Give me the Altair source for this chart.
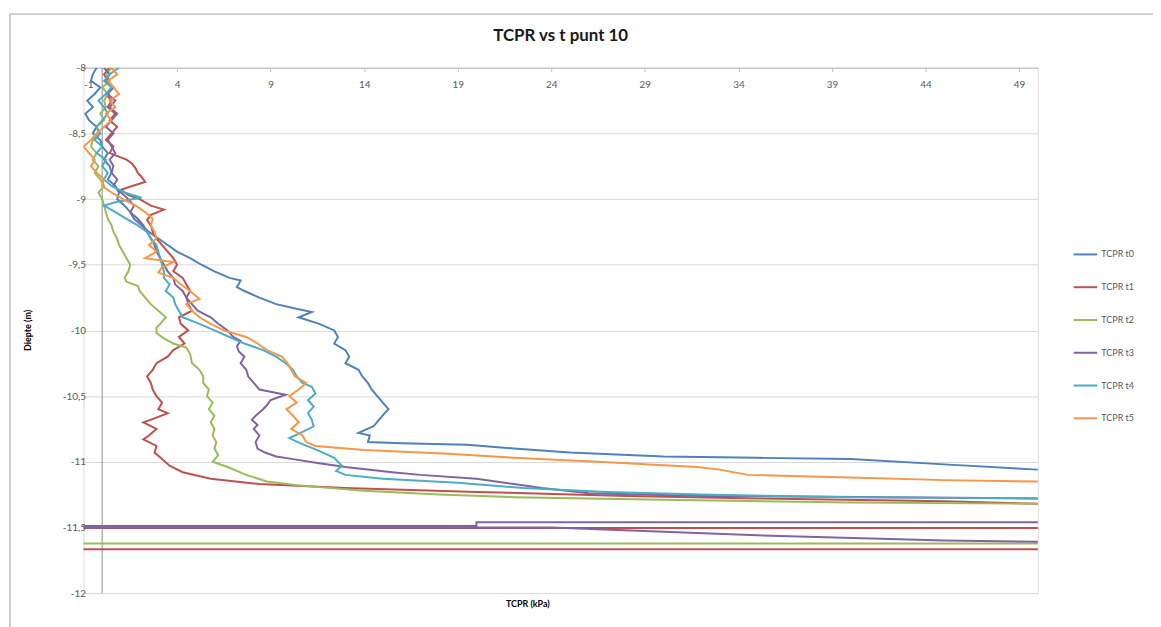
import altair as alt
import pandas as pd

series_names = ["TCPR t0", "TCPR t1", "TCPR t2", "TCPR t3", "TCPR t4", "TCPR t5"]
series_colors = ["#4F81BD", "#C0504D", "#9BBB59", "#8064A2", "#4BACC6", "#F79646"]

x_ticks = [-1, 4, 9, 14, 19, 24, 29, 34, 39, 44, 49]
y_ticks = [-8, -8.5, -9, -9.5, -10, -10.5, -11, -11.5, -12]
axis_cross = [0]

# TCPR t0
t0_depth = [-8.0, -8.05, -8.1, -8.15, -8.2, -8.25, -8.3, -8.35, -8.4, -8.45, -8.5, -8.55, -8.6, -8.65, -8.7,
            -8.75, -8.8, -8.85, -8.9, -8.95, -9.0, -9.05, -9.1, -9.15, -9.2, -9.25, -9.3, -9.35, -9.4, -9.45,
            -9.5, -9.55, -9.6, -9.62, -9.67, -9.7, -9.75, -9.8, -9.83, -9.86, -9.9, -9.95, -10.0, -10.05,
            -10.1, -10.15, -10.2, -10.25, -10.3, -10.35, -10.4, -10.45, -10.5, -10.55, -10.6, -10.63, -10.68,
            -10.73, -10.78, -10.8, -10.85, -10.86, -10.87, -10.9, -10.93, -10.96, -10.97, -10.98, -11.02,
            -11.06, -11.2]
t0_tcpr = [-0.3, -0.5, -0.6, -0.1, -0.4, -0.8, -0.5, -0.9, -0.7, -0.3, -0.5, -0.1, 0.0, 0.3, 0.1,
           0.4, 0.5, 0.3, 0.7, 0.9, 0.8, 1.2, 1.5, 1.7, 2.1, 2.5, 3.0, 3.5, 4.0, 4.7,
           5.3, 6.0, 6.8, 7.4, 7.2, 7.6, 8.4, 9.3, 10.2, 11.2, 10.5, 11.6, 12.4, 12.6,
           12.4, 13.0, 13.2, 13.0, 13.7, 13.9, 14.2, 14.4, 14.7, 15.0, 15.3, 15.1, 14.8,
           14.5, 13.7, 14.3, 14.2, 16.0, 19.5, 22, 25, 30, 35, 40, 45,
           50, 80]

# TCPR t1
t1_depth = [-8.0, -8.05, -8.1, -8.15, -8.2, -8.25, -8.3, -8.35, -8.4, -8.45, -8.5, -8.55, -8.6, -8.65, -8.7,
            -8.73, -8.77, -8.8, -8.83, -8.87, -8.9, -8.93, -8.97, -9.0, -9.05, -9.08, -9.12, -9.16, -9.2,
            -9.25, -9.3, -9.35, -9.4, -9.45, -9.5, -9.55, -9.6, -9.65, -9.7, -9.75, -9.8, -9.85, -9.9, -9.95,
            -10.0, -10.05, -10.1, -10.15, -10.2, -10.25, -10.3, -10.35, -10.4, -10.45, -10.5, -10.55, -10.6,
            -10.63, -10.67, -10.7, -10.75, -10.8, -10.83, -10.88, -10.93, -10.98, -11.03, -11.08, -11.13,
            -11.17, -11.2, -11.23, -11.26, -11.28, -11.3, -11.32, -11.33, -11.505, -11.505, -11.667, -11.667]
t1_tcpr = [0.4, 0.1, 0.3, 0.6, 0.2, 0.5, 0.3, 0.7, 0.4, 0.8, 0.5, 0.2, 0.6, 0.4, 1.3,
           1.6, 1.8, 1.9, 2.1, 2.3, 1.6, 1.0, 1.4, 2.0, 2.6, 3.3, 2.6, 2.4, 2.6,
           2.7, 2.9, 3.2, 3.5, 3.8, 4.0, 3.8, 4.3, 4.5, 4.7, 4.5, 4.6, 4.8, 4.1, 4.2,
           4.6, 4.1, 4.4, 3.8, 3.5, 2.9, 2.7, 2.4, 2.6, 2.7, 2.9, 3.2, 3.0,
           3.5, 2.8, 2.2, 2.9, 2.5, 2.2, 2.9, 2.8, 3.2, 3.6, 4.3, 5.8,
           8.4, 13, 20, 28, 35, 45, 50, 80, 80, -5, -5, 80]

# TCPR t2
t2_depth = [-8.0, -8.05, -8.1, -8.15, -8.2, -8.25, -8.3, -8.35, -8.4, -8.45, -8.5, -8.55, -8.6, -8.65, -8.7,
            -8.75, -8.8, -8.85, -8.9, -8.95, -9.0, -9.05, -9.1, -9.15, -9.2, -9.25, -9.3, -9.35, -9.4, -9.45,
            -9.5, -9.55, -9.6, -9.63, -9.66, -9.7, -9.75, -9.8, -9.85, -9.9, -9.95, -9.98, -10.02, -10.06,
            -10.1, -10.13, -10.18, -10.25, -10.3, -10.35, -10.4, -10.45, -10.5, -10.55, -10.6, -10.65, -10.7,
            -10.75, -10.8, -10.85, -10.9, -10.95, -11.0, -11.04, -11.1, -11.15, -11.18, -11.22, -11.25,
            -11.27, -11.29, -11.31, -11.32, -11.33, -11.622, -11.622]
t2_tcpr = [0.5, 0.2, 0.4, 0.0, 0.3, 0.1, 0.2, -0.1, 0.1, -0.3, -0.2, -0.5, -0.6, -0.3, -0.5,
           -0.2, -0.4, -0.1, 0.1, -0.2, 0.0, 0.1, 0.2, 0.3, 0.5, 0.6, 0.8, 0.9, 1.1, 1.3,
           1.5, 1.4, 1.2, 1.3, 1.9, 2.0, 2.3, 2.6, 3.0, 3.4, 3.1, 2.9, 2.9, 3.3,
           3.8, 4.5, 4.7, 4.8, 5.2, 5.4, 5.4, 5.7, 5.6, 5.9, 5.7, 6.0, 5.8,
           6.0, 5.9, 6.1, 6.0, 6.2, 5.9, 6.7, 7.7, 8.8, 10.5, 14, 18,
           22, 30, 40, 50, 80, 80, -5]

# TCPR t3
t3_depth = [-8.0, -8.05, -8.1, -8.15, -8.2, -8.25, -8.3, -8.35, -8.4, -8.45, -8.5, -8.55, -8.6, -8.65, -8.7,
            -8.75, -8.8, -8.85, -8.9, -8.95, -9.0, -9.05, -9.1, -9.15, -9.2, -9.25, -9.3, -9.35, -9.4, -9.45,
            -9.5, -9.55, -9.6, -9.65, -9.7, -9.75, -9.8, -9.85, -9.9, -9.95, -10.0, -10.05, -10.08, -10.12,
            -10.16, -10.2, -10.25, -10.3, -10.35, -10.4, -10.45, -10.49, -10.53, -10.57, -10.6, -10.65, -10.68,
            -10.72, -10.75, -10.8, -10.85, -10.9, -10.93, -10.96, -10.98, -11.01, -11.04, -11.08, -11.1,
            -11.13, -11.17, -11.2, -11.24, -11.26, -11.28, -11.29, -11.46, -11.46, -11.49, -11.49, -11.5,
            -11.5, -11.56, -11.6, -11.61, -11.62]
t3_tcpr = [0.1, 0.4, 0.2, 0.6, 0.3, 0.7, 0.4, 0.8, 0.5, 0.2, 0.6, 0.3, 0.5, 0.7, 0.4,
           0.6, 0.5, 0.8, 0.6, 1.0, 1.4, 1.7, 1.5, 1.9, 2.2, 2.4, 2.6, 2.8, 2.9, 3.1,
           3.3, 3.5, 3.8, 3.9, 4.3, 4.5, 4.8, 5.1, 5.8, 6.2, 6.7, 7.0, 7.4, 7.2,
           7.3, 7.6, 7.4, 7.7, 7.8, 8.1, 8.4, 9.8, 9.0, 8.8, 8.6, 8.2, 8.0,
           8.3, 8.1, 8.4, 8.2, 8.3, 8.7, 9.3, 10.2, 11.5, 13, 15.5, 17,
           20, 22, 23.5, 26, 32, 50, 80, 80, 20, 20, -5, -5,
           24, 35, 45, 50, 80]

# TCPR t4
t4_depth = [-8.0, -8.05, -8.1, -8.15, -8.2, -8.25, -8.3, -8.35, -8.4, -8.45, -8.5, -8.55, -8.6, -8.65, -8.7,
            -8.75, -8.8, -8.85, -8.9, -8.95, -8.99, -9.02, -9.05, -9.1, -9.15, -9.2, -9.25, -9.3, -9.35,
            -9.4, -9.45, -9.5, -9.55, -9.6, -9.65, -9.7, -9.75, -9.8, -9.85, -9.9, -9.95, -10.0, -10.05,
            -10.1, -10.15, -10.2, -10.25, -10.3, -10.35, -10.4, -10.43, -10.48, -10.53, -10.58, -10.63,
            -10.68, -10.73, -10.78, -10.82, -10.86, -10.9, -10.93, -10.97, -11.03, -11.07, -11.1, -11.13,
            -11.16, -11.2, -11.23, -11.25, -11.27, -11.28, -11.29]
t4_tcpr = [0.9, 0.4, 0.1, 0.5, 0.2, -0.2, 0.1, 0.3, 0.0, -0.3, -0.1, -0.4, 0.0, -0.3, 0.2,
           0.0, 0.3, 0.1, 0.5, 1.2, 2.1, 0.8, 0.1, 0.7, 1.3, 1.9, 2.4, 2.6, 2.9,
           3.0, 3.1, 3.2, 3.3, 3.3, 3.6, 3.4, 3.8, 3.9, 4.1, 4.3, 5.2, 6.0, 6.8,
           7.6, 8.6, 9.3, 9.8, 10.2, 10.4, 10.7, 11.2, 11.4, 11.0, 11.3, 11.0,
           11.2, 11.3, 10.6, 10.0, 10.6, 11.3, 11.8, 12.4, 12.8, 12.5, 13.0, 15,
           19, 22.5, 27, 32, 40, 50, 80]

# TCPR t5
t5_depth = [-8.0, -8.05, -8.1, -8.15, -8.2, -8.25, -8.3, -8.35, -8.4, -8.45, -8.5, -8.55, -8.6, -8.65, -8.7,
            -8.75, -8.8, -8.85, -8.9, -8.95, -9.0, -9.05, -9.1, -9.15, -9.2, -9.25, -9.3, -9.35, -9.4, -9.45,
            -9.48, -9.52, -9.56, -9.6, -9.65, -9.7, -9.76, -9.8, -9.85, -9.9, -9.95, -10.0, -10.05, -10.1,
            -10.15, -10.2, -10.25, -10.3, -10.35, -10.4, -10.45, -10.5, -10.55, -10.6, -10.65, -10.7, -10.75,
            -10.8, -10.85, -10.88, -10.91, -10.94, -10.97, -11.0, -11.04, -11.06, -11.1, -11.12, -11.14,
            -11.15, -11.2]
t5_tcpr = [0.5, 0.8, 0.3, 0.6, 0.9, 0.4, 0.7, 0.2, 0.5, 0.1, -0.3, -0.6, -1.0, -0.7, -0.4,
           -0.6, -0.3, 0.1, 0.0, 0.5, 1.1, 1.8, 2.3, 2.7, 2.6, 2.8, 2.9, 2.5, 2.9, 2.3,
           3.8, 3.2, 3.0, 3.8, 4.2, 4.7, 5.2, 4.5, 4.8, 5.2, 5.8, 6.5, 7.7, 8.3,
           8.8, 9.6, 9.9, 10.1, 10.3, 10.9, 10.5, 10.0, 10.4, 9.85, 10.2, 10.5, 10.1,
           10.7, 10.9, 11.4, 14, 18.5, 22, 26.5, 31.8, 33, 34.5, 40, 45,
           50, 80]

all_depth = [t0_depth, t1_depth, t2_depth, t3_depth, t4_depth, t5_depth]
all_tcpr = [t0_tcpr, t1_tcpr, t2_tcpr, t3_tcpr, t4_tcpr, t5_tcpr]

rows = []
for name, ds, xs in zip(series_names, all_depth, all_tcpr):
    for i, (d, x) in enumerate(zip(ds, xs)):
        rows.append({"series": name, "depth": d, "tcpr": x, "idx": i})
df = pd.DataFrame(rows)

FONT = "Lato"

frame = alt.Chart(pd.DataFrame({"k": [0]})).mark_rect(
    fillOpacity=0, stroke="#cccccc", strokeWidth=2
).encode(
    x=alt.value(-74), x2=alt.value(1100), y=alt.value(-54), y2=alt.value(580)
)

rule = alt.Chart(pd.DataFrame({"tcpr": axis_cross})).mark_rule(
    color="#8c8c8c", strokeWidth=1
).encode(x=alt.X("tcpr:Q"))

lines = alt.Chart(df).mark_line(clip=True, strokeWidth=2).encode(
    x=alt.X(
        "tcpr:Q",
        scale=alt.Scale(domain=[-1, 50], nice=False, zero=False),
        axis=alt.Axis(
            orient="bottom", offset=-529, values=x_ticks, grid=False,
            domainColor="#bfbfbf", domainWidth=1, tickColor="#bfbfbf", tickSize=4,
            labelPadding=8, labelFontSize=10, labelColor="#595959", labelFont=FONT,
            labelExpr="toString(datum.value)",
            title="TCPR (kPa)", titleFontSize=9, titleFontWeight="bold", titleFont=FONT,
            titleColor="#000000", titleX=447, titleY=540, titleBaseline="middle",
        ),
    ),
    y=alt.Y(
        "depth:Q",
        scale=alt.Scale(domain=[-12, -8], nice=False, zero=False),
        axis=alt.Axis(
            values=y_ticks, grid=True, gridColor="#d9d9d9", gridWidth=1,
            domain=False, ticks=False, labelPadding=-2, labelFontSize=10,
            labelColor="#595959", labelFont=FONT,
            labelExpr="replace(toString(datum.value), '.', ',')",
            title="Diepte (m)", titleFontSize=9, titleFontWeight="bold", titleFont=FONT,
            titleColor="#000000", titleX=-56, titleY=264, titleBaseline="middle",
            titleAlign="center",
        ),
    ),
    color=alt.Color(
        "series:N",
        scale=alt.Scale(domain=series_names, range=series_colors),
        legend=alt.Legend(
            title=None, orient="none", legendX=996, legendY=175,
            symbolType="stroke", symbolStrokeWidth=2, symbolSize=560,
            labelFontSize=9, labelColor="#595959", labelFont=FONT,
            rowPadding=15, labelOffset=3,
        ),
    ),
    order=alt.Order("idx:Q"),
)

chart = alt.layer(frame, rule, lines).properties(
    width=961,
    height=529,
    padding={"left": 76, "top": 58, "right": 116, "bottom": 32},
    autosize=alt.AutoSizeParams(type="none"),
    title=alt.Title(
        "TCPR vs t punt 10", fontSize=17, font=FONT, fontWeight="bold",
        color="#1a1a1a", anchor="middle", frame="group", offset=-32,
    ),
).configure_view(strokeWidth=0).configure(background="white")

chart.save("out.html", embed_options={"renderer": "svg", "actions": False})
